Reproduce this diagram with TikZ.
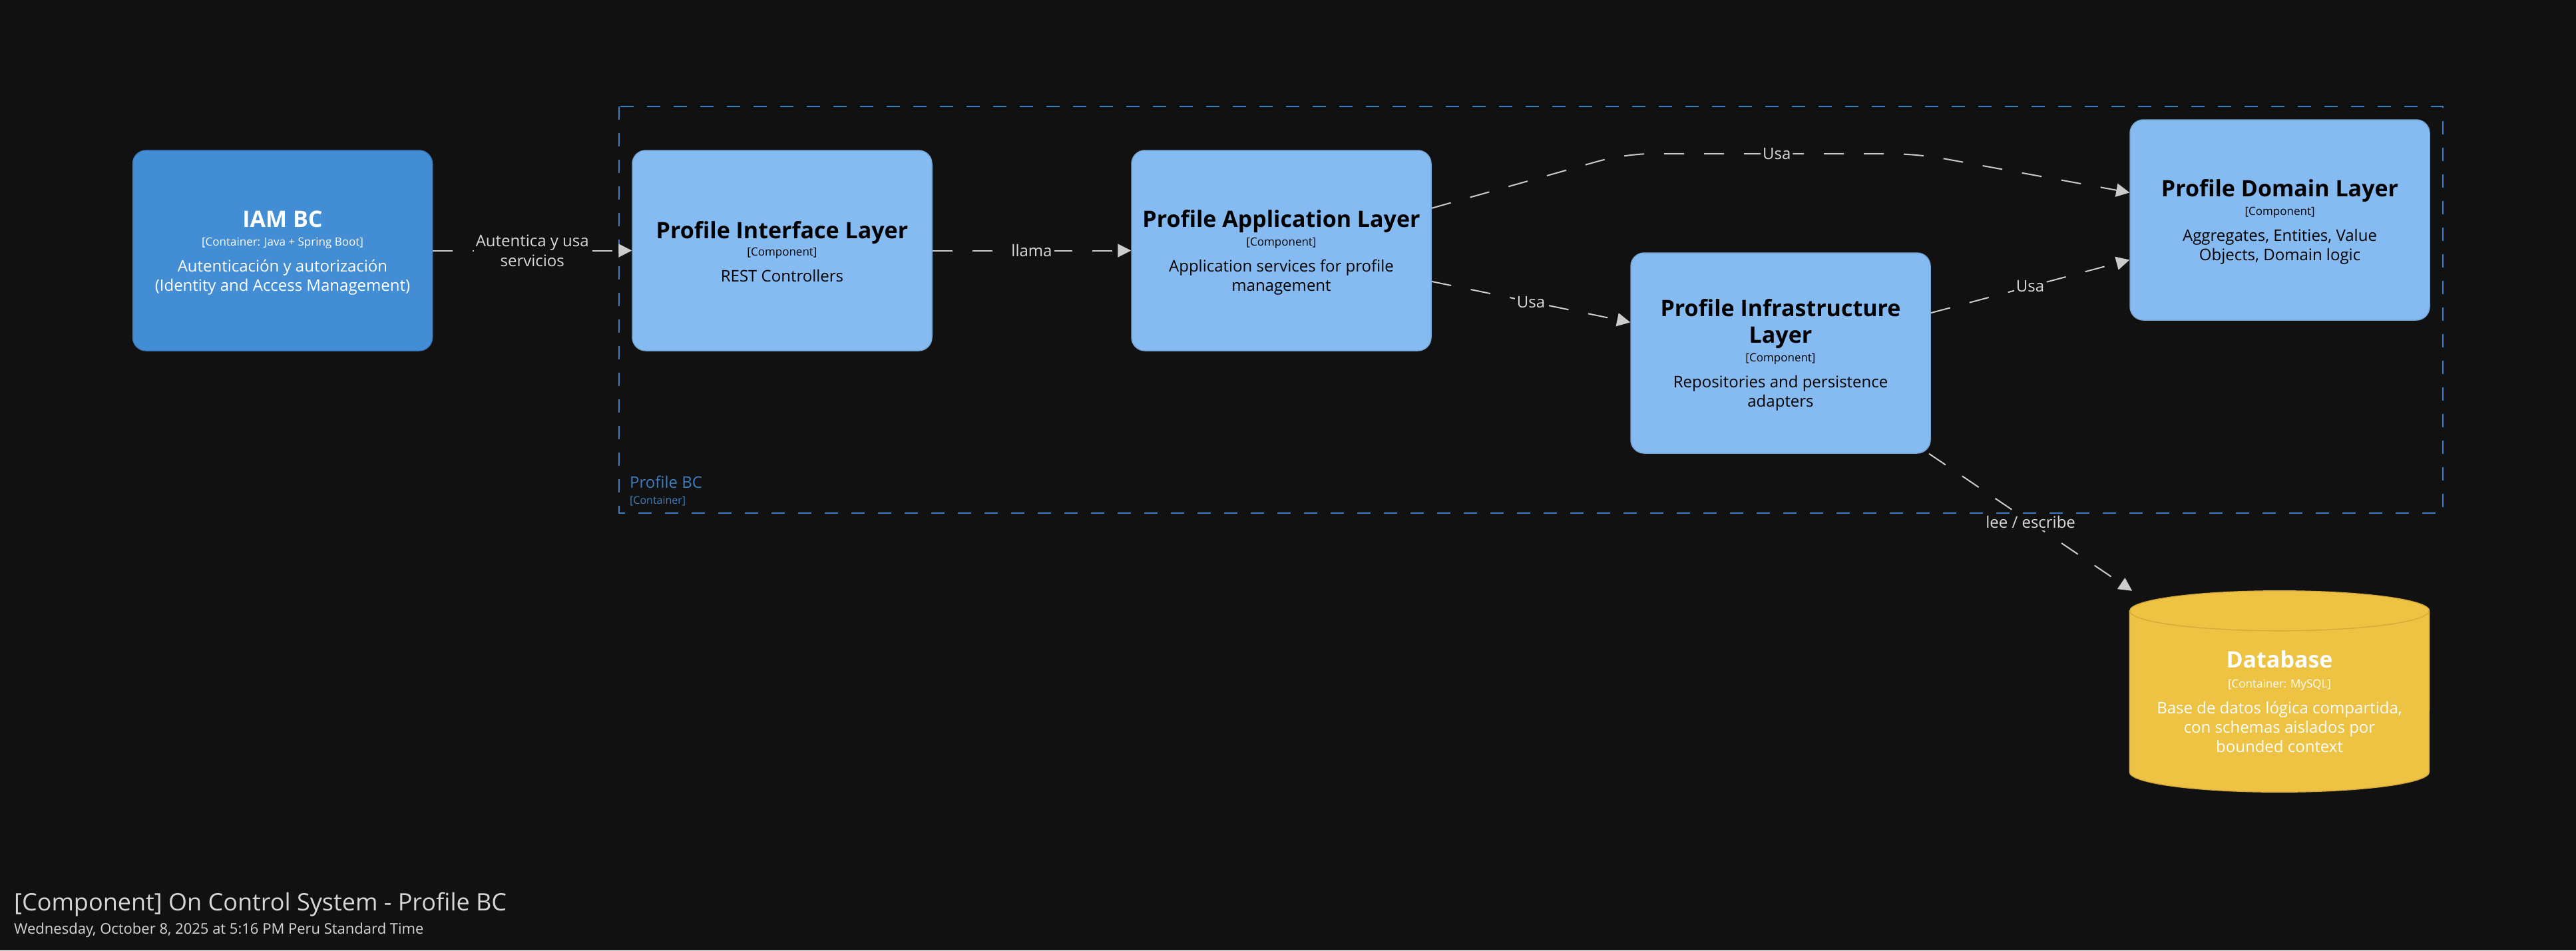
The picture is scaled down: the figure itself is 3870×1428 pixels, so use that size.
\documentclass[tikz,border=0pt]{standalone}
\usepackage{fontspec}
\setmainfont{Open Sans}
\usetikzlibrary{calc,arrows.meta}

\definecolor{bgc}{HTML}{111111}
\definecolor{iamfill}{HTML}{438DD5}
\definecolor{iamdraw}{HTML}{3C7DBF}
\definecolor{compfill}{HTML}{85BBF0}
\definecolor{compdraw}{HTML}{78A8D8}
\definecolor{dbfill}{HTML}{EEC243}
\definecolor{dbdraw}{HTML}{D6AD3C}
\definecolor{relc}{HTML}{CCCCCC}
\definecolor{lblc}{HTML}{D9D9D9}
\definecolor{bndc}{HTML}{3D7EC2}
\definecolor{titlec}{HTML}{D6D6D6}

\newcommand\fsz[2]{\fontsize{#1}{#2}\selectfont}

\tikzset{
  box/.style={rounded corners=20pt, minimum width=450pt, minimum height=301pt,
    line width=1.5pt, inner sep=0pt},
  extbox/.style={box, fill=iamfill, draw=iamdraw},
  compbox/.style={box, fill=compfill, draw=compdraw},
  tname/.style={anchor=base, inner sep=0pt, font=\fsz{34}{40}\bfseries},
  tmeta/.style={anchor=base, inner sep=0pt, font=\fsz{17}{20}},
  tdesc/.style={anchor=base, inner sep=0pt, font=\fsz{24}{29}},
  rel/.style={draw=relc, line width=2pt, dash pattern=on 30pt off 30pt,
    -{Triangle[length=20pt,width=20pt]}},
  lbl/.style={fill=bgc, text=lblc, font=\fsz{24}{30}, inner sep=3pt, align=center},
}

\begin{document}
\begin{tikzpicture}[x=1pt,y=-1pt]
  % canvas
  \fill[bgc] (0,0) rectangle (3870,1428);
  \useasboundingbox (0,0) rectangle (3870,1428);

  % Profile BC boundary
  \draw[bndc, line width=2pt, dash pattern=on 20pt off 20pt] (930,160) rectangle (3670,771);
  \node[anchor=base west, inner sep=0pt, font=\fsz{24}{28}, text=bndc] (bc-name) at (946,733) {Profile BC};
  \node[anchor=base west, inner sep=0pt, font=\fsz{16}{20}, text=bndc] (bc-meta) at (946,757) {[Container]};

  % elements
  \node[extbox] (iam) at (424.5,376.5) {};
  \node[compbox] (iface) at (1175,376.5) {};
  \node[compbox] (app) at (1925,376.5) {};
  \node[compbox] (infra) at (2675,530.5) {};
  \node[compbox] (dom) at (3425,330.5) {};

  % database cylinder
  \node[minimum width=450pt, minimum height=302pt, inner sep=0pt] (db) at (3424.5,1039) {};
  \filldraw[fill=dbfill, draw=dbdraw, line width=1.5pt]
    ($(db.north west)+(0,30)$) -- ($(db.south west)+(0,-30)$)
    arc[start angle=180, end angle=360, x radius=225pt, y radius=30pt]
    -- ($(db.north east)+(0,30)$)
    arc[start angle=0, end angle=180, x radius=225pt, y radius=30pt] -- cycle;
  \draw[dbdraw, line width=1.5pt] ($(db.north west)+(0,30)$)
    arc[start angle=180, end angle=360, x radius=225pt, y radius=30pt];

  % relationships
  \coordinate (v1) at (2441,231);
  \coordinate (v2) at (2880,231);
  \draw[rel] (iam) -- node[lbl] (l-auth) {Autentica y usa\\servicios} (iface);
  \draw[rel] (iface) -- node[lbl] (l-call) {llama} (app);
  \draw[rel, rounded corners=40pt] (app) -- (v1) -- node[lbl, pos=0.52] (l-use1) {Usa} (v2) -- (dom);
  \draw[rel] (app) -- node[lbl] (l-use2) {Usa} (infra);
  \draw[rel] (infra) -- node[lbl] (l-use3) {Usa} (dom);
  \draw[rel] (infra) -- node[lbl] (l-rw) {lee / escribe} (db);

  % IAM BC
  \node[tname, text=white] (iam-n) at ($(iam.center)+(0,-35)$) {IAM BC};
  \node[tmeta, text=white] (iam-m) at ($(iam.center)+(0,-7.5)$) {[Container: Java + Spring Boot]};
  \node[tdesc, text=white] (iam-d1) at ($(iam.center)+(0,31.5)$) {Autenticación y autorización};
  \node[tdesc, text=white] (iam-d2) at ($(iam.center)+(0,60.5)$) {(Identity and Access Management)};

  % Profile Interface Layer
  \node[tname] (iface-n) at ($(iface.center)+(0,-18)$) {Profile Interface Layer};
  \node[tmeta] (iface-m) at ($(iface.center)+(0,7.5)$) {[Component]};
  \node[tdesc] (iface-d1) at ($(iface.center)+(0,46.5)$) {REST Controllers};

  % Profile Application Layer
  \node[tname] (app-n) at ($(app.center)+(0,-35)$) {Profile Application Layer};
  \node[tmeta] (app-m) at ($(app.center)+(0,-7.5)$) {[Component]};
  \node[tdesc] (app-d1) at ($(app.center)+(0,31.5)$) {Application services for profile};
  \node[tdesc] (app-d2) at ($(app.center)+(0,60.5)$) {management};

  % Profile Domain Layer
  \node[tname] (dom-n) at ($(dom.center)+(0,-35)$) {Profile Domain Layer};
  \node[tmeta] (dom-m) at ($(dom.center)+(0,-7.5)$) {[Component]};
  \node[tdesc] (dom-d1) at ($(dom.center)+(0,31.5)$) {Aggregates, Entities, Value};
  \node[tdesc] (dom-d2) at ($(dom.center)+(0,60.5)$) {Objects, Domain logic};

  % Profile Infrastructure Layer
  \node[tname] (infra-n1) at ($(infra.center)+(0,-55)$) {Profile Infrastructure};
  \node[tname] (infra-n2) at ($(infra.center)+(0,-15)$) {Layer};
  \node[tmeta] (infra-m) at ($(infra.center)+(0,12.5)$) {[Component]};
  \node[tdesc] (infra-d1) at ($(infra.center)+(0,51.5)$) {Repositories and persistence};
  \node[tdesc] (infra-d2) at ($(infra.center)+(0,80.5)$) {adapters};

  % Database
  \node[tname, text=white] (db-n) at ($(db.center)+(0,-35.5)$) {Database};
  \node[tmeta, text=white] (db-m) at ($(db.center)+(0,-6)$) {[Container: MySQL]};
  \node[tdesc, text=white] (db-d1) at ($(db.center)+(0,33)$) {Base de datos lógica compartida,};
  \node[tdesc, text=white] (db-d2) at ($(db.center)+(0,62)$) {con schemas aislados por};
  \node[tdesc, text=white] (db-d3) at ($(db.center)+(0,91)$) {bounded context};

  % diagram title
  \node[anchor=base west, inner sep=0pt, font=\fsz{36}{40}, text=titlec] (title) at (21,1368)
    {[Component] On Control System - Profile BC};
  \node[anchor=base west, inner sep=0pt, font=\fsz{22}{24}, text=titlec] (date) at (21,1403)
    {Wednesday, October 8, 2025 at 5:16 PM Peru Standard Time};
\end{tikzpicture}
\end{document}
